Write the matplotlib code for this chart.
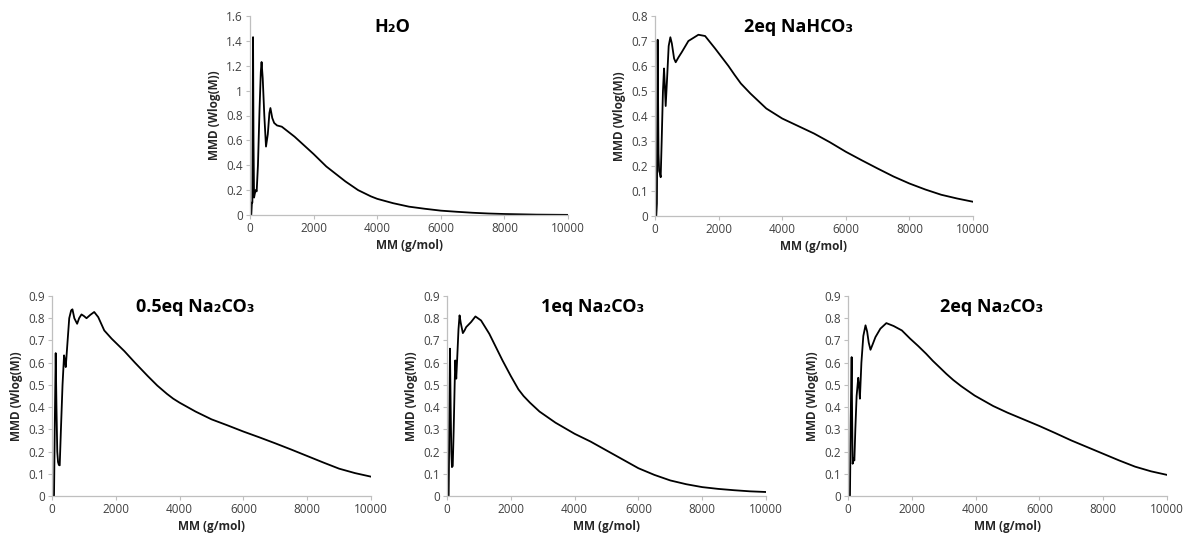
import numpy as np
import matplotlib.pyplot as plt
from matplotlib.ticker import FuncFormatter, MultipleLocator

plt.rcParams['font.family'] = ['Open Sans', 'DejaVu Sans']

# molar mass (g/mol) and MMD values
h2o_x = [40, 60, 75, 85, 96, 110, 128, 150, 180, 210, 250, 300, 340, 364, 400,
         450, 503, 560, 610, 642, 700, 760, 850, 1000, 1200, 1400, 1700, 2000,
         2200, 2400, 2600, 2800, 3000, 3200, 3400, 3600, 3800, 4000, 4500,
         5000, 5500, 6000, 6500, 7000, 7500, 8000, 9000, 10000]
h2o_y = [0, 0.1, 0.1, 0.8, 1.43, 0.6, 0.14, 0.17, 0.2, 0.19, 0.4, 0.85, 1.15,
         1.23, 1.1, 0.8, 0.55, 0.65, 0.82, 0.86, 0.78, 0.74, 0.72, 0.71, 0.67,
         0.63, 0.56, 0.49, 0.44, 0.39, 0.35, 0.31, 0.27, 0.235, 0.2, 0.175,
         0.15, 0.13, 0.095, 0.067, 0.05, 0.035, 0.026, 0.018, 0.012, 0.008,
         0.003, 0.001]

nahco3_x = [40, 60, 75, 84, 95, 110, 130, 155, 179, 210, 250, 284, 310, 336,
            380, 430, 483, 530, 600, 651, 740, 840, 1050, 1365, 1575, 1890,
            2100, 2310, 2500, 2700, 3000, 3250, 3500, 3750, 4000, 4500, 5000,
            5500, 6000, 6500, 7000, 7500, 8000, 8500, 9000, 9500, 10000]
nahco3_y = [0, 0.05, 0.4, 0.705, 0.5, 0.25, 0.18, 0.17, 0.155, 0.3, 0.5, 0.59,
            0.52, 0.44, 0.55, 0.68, 0.715, 0.69, 0.63, 0.615, 0.635, 0.655,
            0.70, 0.725, 0.72, 0.67, 0.635, 0.60, 0.565, 0.53, 0.49, 0.46,
            0.43, 0.41, 0.39, 0.36, 0.33, 0.295, 0.257, 0.223, 0.19, 0.158,
            0.13, 0.106, 0.085, 0.07, 0.057]

na05_x = [55, 63, 90, 116, 140, 165, 189, 215, 242, 280, 330, 378, 405, 431,
          480, 540, 600, 641, 700, 788, 850, 924, 1000, 1082, 1200, 1323, 1449,
          1638, 1869, 2268, 2600, 3000, 3300, 3600, 3800, 4000, 4500, 5000,
          5500, 6000, 6500, 7000, 7500, 8000, 8500, 9000, 9500, 10000]
na05_y = [0, 0, 0.35, 0.643, 0.4, 0.2, 0.153, 0.14, 0.138, 0.3, 0.5, 0.633,
          0.61, 0.58, 0.68, 0.8, 0.835, 0.84, 0.8, 0.775, 0.8, 0.817, 0.81,
          0.80, 0.815, 0.828, 0.805, 0.745, 0.708, 0.652, 0.6, 0.54, 0.497,
          0.46, 0.438, 0.42, 0.38, 0.345, 0.318, 0.29, 0.264, 0.237, 0.209,
          0.18, 0.151, 0.123, 0.103, 0.087]

na1_x = [45, 52, 75, 93, 115, 135, 155, 180, 210, 240, 259, 275, 290, 320, 360,
         394, 430, 497, 550, 601, 756, 891, 1067, 1326, 1740, 2000, 2238, 2400,
         2600, 2900, 3200, 3400, 3700, 4000, 4500, 5000, 5500, 6000, 6500,
         7000, 7500, 8000, 8500, 9000, 9500, 10000]
na1_y = [0, 0, 0.35, 0.663, 0.4, 0.2, 0.13, 0.135, 0.3, 0.5, 0.61, 0.57, 0.528,
         0.62, 0.75, 0.813, 0.78, 0.733, 0.745, 0.76, 0.783, 0.808, 0.79, 0.73,
         0.61, 0.54, 0.48, 0.45, 0.42, 0.38, 0.35, 0.33, 0.305, 0.28, 0.245,
         0.205, 0.165, 0.125, 0.095, 0.07, 0.053, 0.04, 0.032, 0.026, 0.021,
         0.018]

na2_x = [55, 62, 85, 114, 130, 145, 176, 200, 230, 270, 321, 345, 373, 420,
         480, 549, 600, 650, 705, 780, 860, 1015, 1202, 1430, 1689, 1948, 2200,
         2450, 2660, 2900, 3080, 3300, 3550, 3970, 4550, 5000, 5500, 6000,
         6500, 7000, 7500, 8000, 8500, 9000, 9500, 10000]
na2_y = [0, 0, 0.35, 0.625, 0.35, 0.145, 0.168, 0.16, 0.3, 0.45, 0.532, 0.5,
         0.438, 0.6, 0.72, 0.768, 0.74, 0.69, 0.658, 0.685, 0.715, 0.753,
         0.778, 0.765, 0.745, 0.708, 0.675, 0.64, 0.608, 0.575, 0.55, 0.522,
         0.494, 0.452, 0.405, 0.375, 0.345, 0.315, 0.283, 0.25, 0.22, 0.19,
         0.16, 0.132, 0.111, 0.095]

titles = ['H\u2082O', '2eq NaHCO\u2083', '0.5eq Na\u2082CO\u2083',
          '1eq Na\u2082CO\u2083', '2eq Na\u2082CO\u2083']
ymaxes = [1.6, 0.8, 0.9, 0.9, 0.9]
ysteps = [0.2, 0.1, 0.1, 0.1, 0.1]
title_xpos = [0.447, 0.453, 0.448, 0.458, 0.451]

fig = plt.figure(figsize=(11.84, 5.37), dpi=100)
W, H = 1184.0, 537.0
# axes boxes in pixels: left, right, top, bottom
boxes = [(250, 568, 16, 215), (655, 973, 16, 216),
         (52, 371, 296, 496), (447, 766, 296, 496), (848, 1167, 296, 496)]
series = [(h2o_x, h2o_y), (nahco3_x, nahco3_y), (na05_x, na05_y),
          (na1_x, na1_y), (na2_x, na2_y)]

grey = '#BFBFBF'
for i, (l, r, t, b) in enumerate(boxes):
    ax = fig.add_axes([l / W, (H - b) / H, (r - l) / W, (b - t) / H])
    xs, ys = series[i]
    ax.plot(xs, ys, color='black', lw=1.3, solid_joinstyle='round')
    ax.set_xlim(0, 10000)
    ax.set_ylim(0, ymaxes[i])
    ax.xaxis.set_major_locator(MultipleLocator(2000))
    ax.yaxis.set_major_locator(MultipleLocator(ysteps[i]))
    ax.yaxis.set_major_formatter(FuncFormatter(lambda v, p: '{:g}'.format(round(v, 2))))
    for s in ['top', 'right']:
        ax.spines[s].set_visible(False)
    for s in ['left', 'bottom']:
        ax.spines[s].set_color(grey)
        ax.spines[s].set_linewidth(0.9)
    ax.tick_params(axis='both', colors=grey, labelcolor='#404040',
                   labelsize=8.5, length=3, width=0.8, pad=2)
    ax.set_xlabel('MM (g/mol)', fontsize=8.5, fontweight='bold',
                  color='#262626', labelpad=3)
    ax.set_ylabel('MMD (Wlog(M))', fontsize=8.5, fontweight='bold',
                  color='#262626', labelpad=4)
    ax.text(title_xpos[i], 0.945, titles[i], transform=ax.transAxes,
            ha='center', va='center', fontsize=13, fontweight='bold')

fig.savefig('out.png', dpi=100)
